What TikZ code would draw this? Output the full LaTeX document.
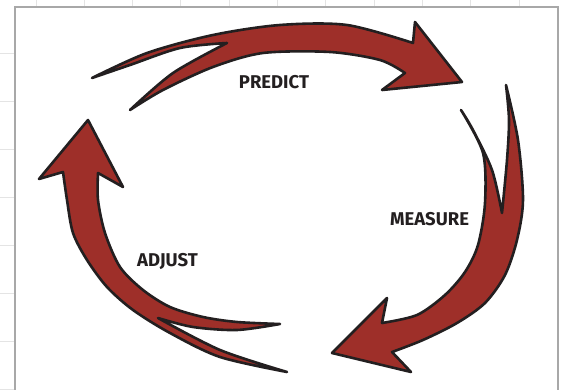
\documentclass[tikz,border=0pt]{standalone}
\usepackage{fontspec}
\setmainfont{Fira Sans}
\usepackage{xcolor}
\usepackage{tikz}
\definecolor{cycred}{HTML}{9E2F29}
\definecolor{cycline}{HTML}{231F20}
\definecolor{sheetgrid}{HTML}{E4E4E4}
\definecolor{sheetframe}{HTML}{A8A8A8}
\tikzset{
  cyclearrow/.style={fill=cycred,draw=cycline,line width=2.6pt,line join=round},
  steplabel/.style={font=\fontsize{18.5}{20}\selectfont\bfseries,text=cycline,inner sep=0pt}
}

\begin{document}
\begin{tikzpicture}[x=1pt,y=-1pt]
\useasboundingbox (0,0) rectangle (563,390);
\clip (0,0) rectangle (563,390);
% sheet grid behind the frame
\foreach \i in {0,...,10}
  \draw[sheetgrid,line width=1pt] (36+48.3*\i,0) -- (36+48.3*\i,7);
\foreach \i in {0,...,7}
  \draw[sheetgrid,line width=1pt] (0,54+48*\i) -- (15,54+48*\i);
\draw[sheetframe,line width=2.2pt,fill=white] (15,7) rectangle (558,400);

% predict
\draw[cyclearrow] plot[smooth] coordinates {(92,78) (147,53) (213,35) (280,25) (347,25) (413,43)}
  -- (415,22) -- (462,82) -- (382,90) -- (405,73)
  -- plot[smooth] coordinates {(405,73) (380,60) (330,52) (263,53) (213,67) (163,90) (130,110)}
  -- plot[smooth] coordinates {(130,110) (173,73) (227,43)}
  -- plot[smooth] coordinates {(227,43) (180,48) (130,65) (92,78)} -- cycle;

% measure
\draw[cyclearrow] plot[smooth] coordinates {(506,85) (518,140) (523,200) (517,240) (505,275) (485,303) (457,323) (423,340) (392,352)}
  -- (411,372) -- (332,353) -- (387,298) -- (382,323)
  -- plot[smooth] coordinates {(382,323) (417,315) (445,295) (465,272) (478,245) (485,203) (483,153) (461,110)}
  -- plot[smooth] coordinates {(461,110) (473,130) (492,170) (502,213)}
  -- plot[smooth] coordinates {(502,213) (507,160) (509,120) (506,85)} -- cycle;

% adjust
\draw[cyclearrow] (88,120) -- (123,187) -- (98,173)
  -- plot[smooth] coordinates {(98,173) (98,200) (105,233) (120,267) (143,290) (170,307) (203,317) (237,322) (280,324)}
  -- plot[smooth] coordinates {(280,324) (237,330) (193,327) (158,318)}
  -- plot[smooth] coordinates {(158,318) (220,350) (287,372)}
  -- plot[smooth] coordinates {(287,372) (220,357) (170,333) (133,310) (107,287) (87,260) (73,233) (67,200) (63,172)}
  -- (39,179) -- cycle;

\node[steplabel] (predict) at (274,82) {PREDICT};
\node[steplabel] (measure) at (429.5,219) {MEASURE};
\node[steplabel] (adjust) at (167.5,261.5) {ADJUST};
\end{tikzpicture}
\end{document}
